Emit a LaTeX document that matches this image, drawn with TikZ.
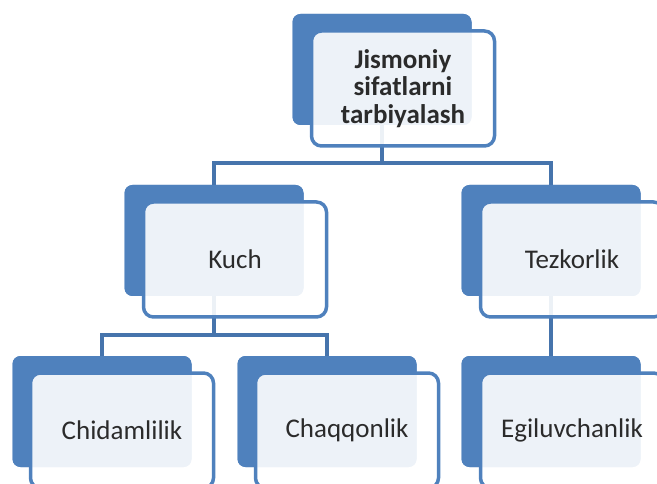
\documentclass[tikz,border=0pt]{standalone}
\usepackage{fontspec}
\setmainfont{Carlito}
\usetikzlibrary{calc}
\definecolor{accent}{HTML}{4F81BD}
\definecolor{connc}{HTML}{4674AC}
\definecolor{txt}{HTML}{2B2B2B}
\tikzset{
  backbox/.style={rectangle, rounded corners=8pt, fill=accent, draw=none,
    minimum width=179pt, minimum height=111pt, inner sep=0pt, outer sep=0pt},
  frontbox/.style={rectangle, rounded corners=10pt, draw=accent, line width=3.5pt,
    fill=white, fill opacity=0.9, text opacity=1, text=txt,
    minimum width=183pt, minimum height=115pt, inner sep=2pt, align=center,
    font=\fontsize{27}{27.5}\selectfont},
  conn/.style={draw=connc, line width=4pt}
}
\begin{document}
\begin{tikzpicture}[x=1pt,y=-1pt]
\useasboundingbox (0,0) rectangle (657,484);
\clip (0,0) rectangle (657,484);
% background boxes (dark), placed first to name them
\node[backbox] (dtop) at (382,69.5) {};
\node[backbox] (dkuch) at (214,240.5) {};
\node[backbox] (dtez) at (551,240.5) {};
\node[backbox] (dchid) at (102,411.5) {};
\node[backbox] (dchaq) at (327,411.5) {};
\node[backbox] (degil) at (551,411.5) {};
% connectors
\draw[conn] (dtop.south) -- ++(0,38.5) -| (dkuch.north);
\draw[conn] (dtop.south) ++(0,38.5) -| (dtez.north);
\draw[conn] (dkuch.south) -- ++(0,39) -| (dchid.north);
\draw[conn] (dkuch.south) ++(0,39) -| (dchaq.north);
\draw[conn] (dtez.south) -- (degil.north);
% dark boxes again, over the connector ends
\node[backbox] at (dtop) {};
\node[backbox] at (dkuch) {};
\node[backbox] at (dtez) {};
\node[backbox] at (dchid) {};
\node[backbox] at (dchaq) {};
\node[backbox] at (degil) {};
% front boxes with text
\node[frontbox, font=\fontsize{27}{27.5}\selectfont\bfseries] (top) at ($(dtop)+(21,19)$) {Jismoniy\\sifatlarni\\tarbiyalash};
\node[frontbox] (kuch) at ($(dkuch)+(21,19)$) {Kuch};
\node[frontbox] (tez) at ($(dtez)+(21,19)$) {Tezkorlik};
\node[frontbox] (chid) at ($(dchid)+(20,19)$) {Chidamlilik};
\node[frontbox] (chaq) at ($(dchaq)+(20,19)$) {Chaqqonlik};
\node[frontbox] (egil) at ($(degil)+(21,19)$) {Egiluvchanlik};
\end{tikzpicture}
\end{document}
